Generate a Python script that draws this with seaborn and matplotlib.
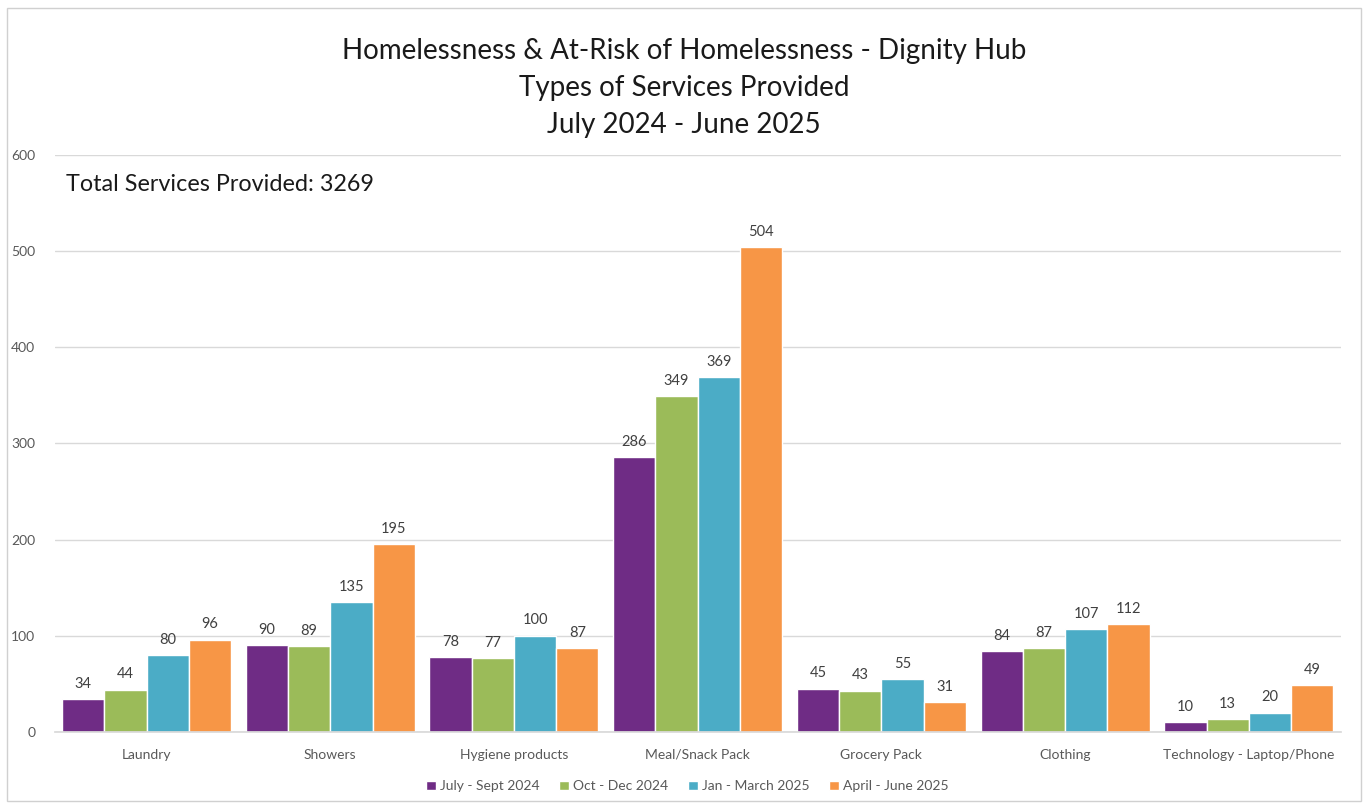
import numpy as np
import pandas as pd
import matplotlib.pyplot as plt
import seaborn as sns
from matplotlib.patches import Rectangle

# data
categories = ["Laundry", "Showers", "Hygiene products", "Meal/Snack Pack",
              "Grocery Pack", "Clothing", "Technology - Laptop/Phone"]
quarters = ["July - Sept 2024", "Oct - Dec 2024", "Jan - March 2025", "April - June 2025"]
jul_sep_2024 = [34, 90, 78, 286, 45, 84, 10]
oct_dec_2024 = [44, 89, 77, 349, 43, 87, 13]
jan_mar_2025 = [80, 135, 100, 369, 55, 107, 20]
apr_jun_2025 = [96, 195, 87, 504, 31, 112, 49]
total_services = 3269

colors = ["#6F2C85", "#9BBB59", "#4BACC6", "#F79646"]

df = pd.DataFrame({
    "category": categories * 4,
    "quarter": np.repeat(quarters, len(categories)),
    "value": jul_sep_2024 + oct_dec_2024 + jan_mar_2025 + apr_jun_2025,
})

sns.set_theme(style="white")
plt.rcParams["font.family"] = ["Lato", "DejaVu Sans"]

fig = plt.figure(figsize=(13.68, 8.05), dpi=100)
ax = fig.add_axes([0.040, 0.0907, 0.940, 0.7168])

sns.barplot(data=df, x="category", y="value", hue="quarter", palette=colors,
            width=0.92, saturation=1, ax=ax, legend=True)

for cont in ax.containers:
    ax.bar_label(cont, padding=6, fontsize=10.5, color="#404040")

ax.set_ylim(0, 600)
ax.set_yticks(range(0, 601, 100))
ax.set_xlim(-0.5, len(categories) - 0.5)
ax.yaxis.grid(True, color="#D9D9D9", linewidth=1)
ax.set_axisbelow(True)
ax.set_xlabel("")
ax.set_ylabel("")
ax.tick_params(axis="both", length=0, labelsize=10, labelcolor="#595959")
ax.tick_params(axis="x", pad=12)
ax.tick_params(axis="y", pad=14)
for s in ["top", "right", "left"]:
    ax.spines[s].set_visible(False)
ax.spines["bottom"].set_color("#D9D9D9")

ax.legend(loc="center", bbox_to_anchor=(0.492, -0.094), ncol=4, frameon=False,
          fontsize=10, handlelength=0.7, handleheight=0.7, handletextpad=0.3,
          columnspacing=1.4, labelcolor="#595959")

fig.text(0.5, 0.891, "Homelessness & At-Risk of Homelessness - Dignity Hub\nTypes of Services Provided\nJuly 2024 - June 2025",
         ha="center", va="center", fontsize=20, color="#1a1a1a", linespacing=1.52)
ax.text(0.009, 0.948, f"Total Services Provided: {total_services}", transform=ax.transAxes,
        fontsize=16.8, color="#1a1a1a", va="center")

fig.patches.append(Rectangle((0.005, 0.005), 0.99, 0.985, transform=fig.transFigure,
                             fill=False, edgecolor="#D0D0D0", linewidth=1))

fig.savefig("out.png", dpi=100)
